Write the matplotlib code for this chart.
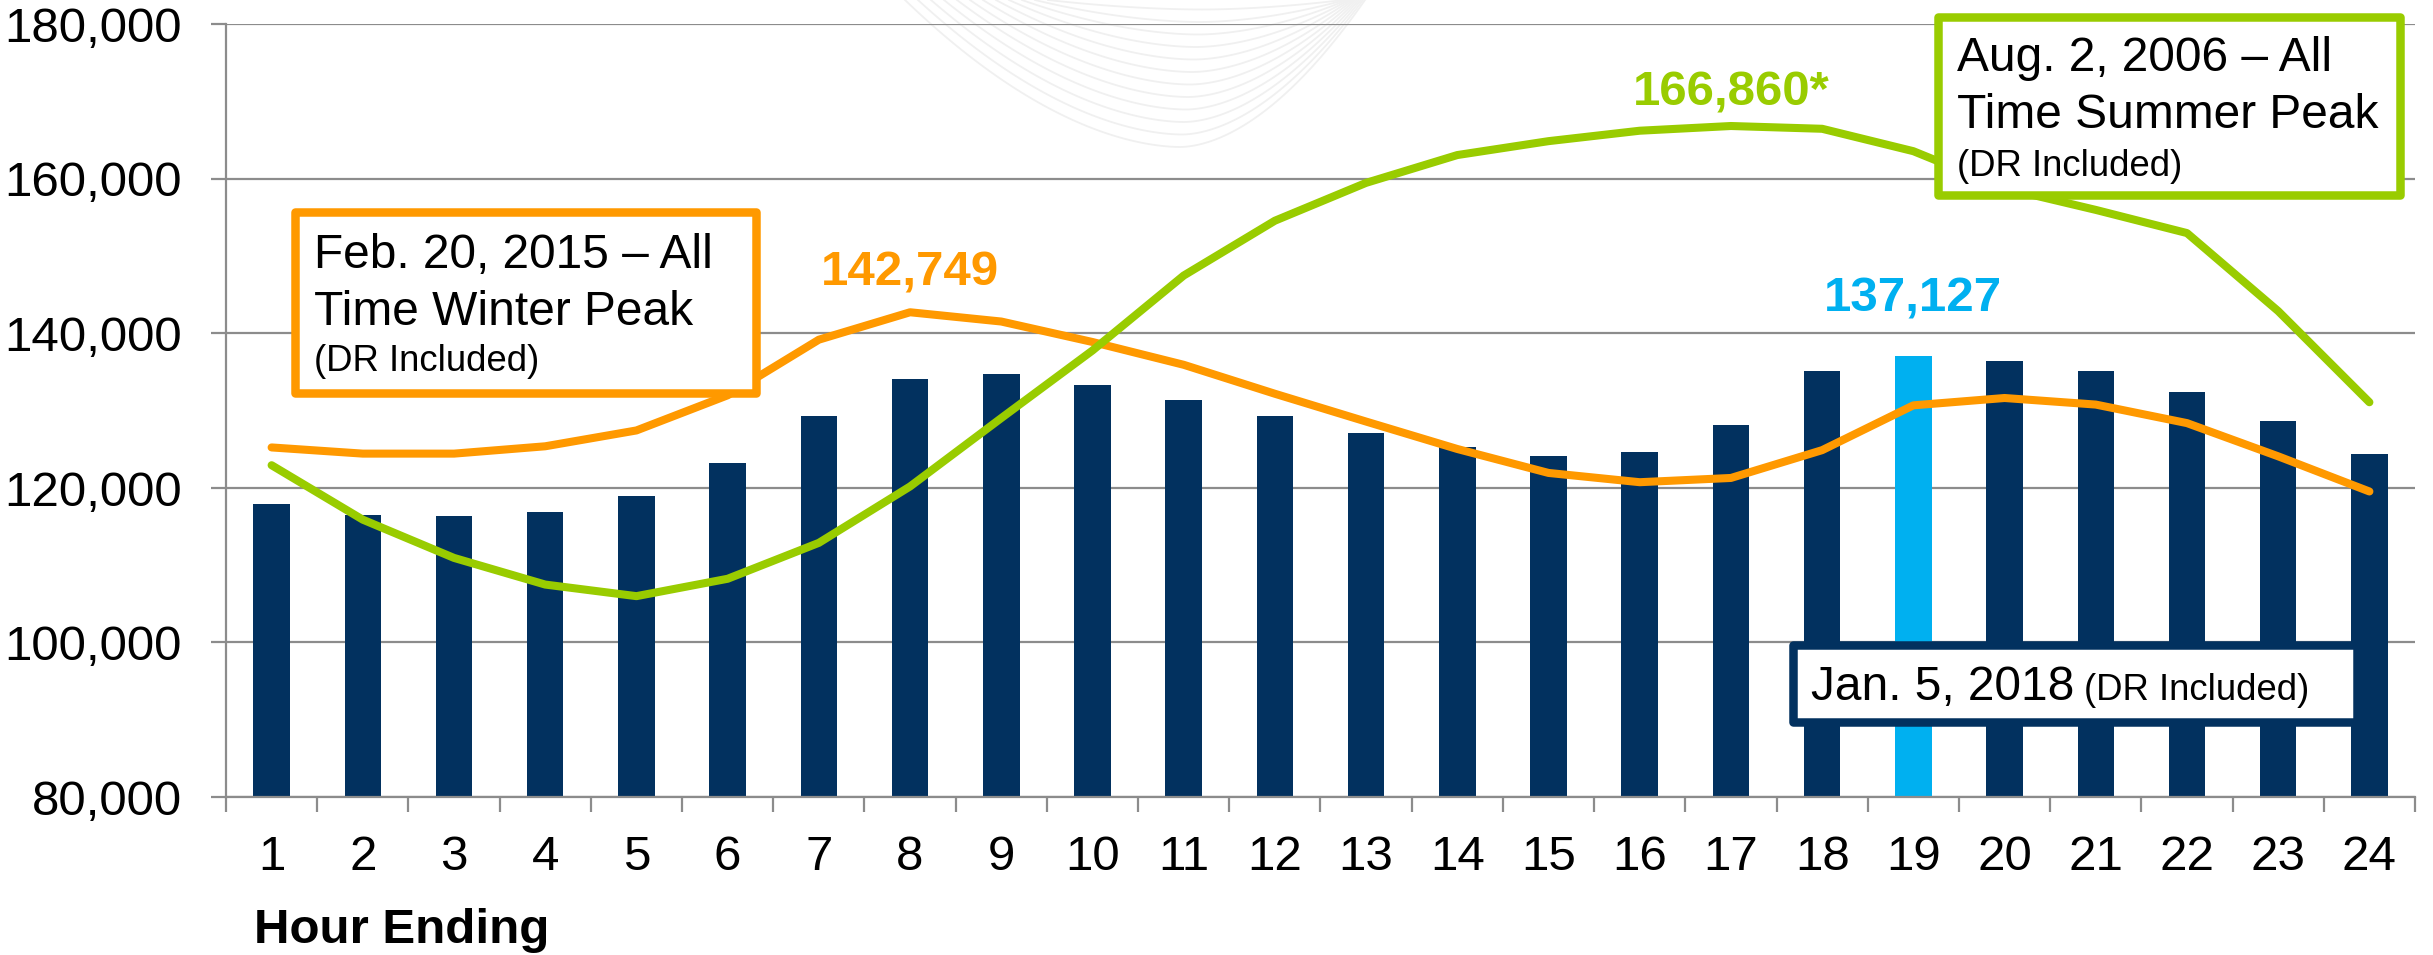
import numpy as np
import matplotlib
matplotlib.use("Agg")
import matplotlib.pyplot as plt
from matplotlib.patches import Rectangle
from matplotlib.ticker import FuncFormatter, FixedLocator

plt.rcParams['font.family'] = ['Liberation Sans', 'DejaVu Sans']

# ---------------- data ----------------
hours = list(range(1, 25))
hour_labels = [str(h) for h in hours]
jan2018 = [117900, 116500, 116400, 116900, 119000, 123300, 129350, 134100,
           134700, 133300, 131400, 129300, 127150, 125350, 124100, 124600,
           128100, 135200, 137127, 136450, 135100, 132450, 128700, 124400]
winter2015 = [125250, 124450, 124450, 125400, 127450, 132000, 139200, 142749,
              141550, 138900, 135950, 132200, 128600, 125050, 121950, 120750,
              121300, 124900, 130700, 131650, 130800, 128400, 124100, 119550]
summer2006 = [122950, 115900, 110950, 107500, 106000, 108250, 112900, 120200,
              129050, 137800, 147500, 154600, 159500, 163100, 164900, 166250,
              166860, 166500, 163600, 158800, 156000, 153000, 142900, 131100]
peak_hour_jan = 19
peak_label_jan = "137,127"
peak_label_winter = "142,749"
peak_label_summer = "166,860*"
yticks = [80000, 100000, 120000, 140000, 160000, 180000]

NAVY = "#02315F"
LIGHTBLUE = "#00B0F0"
ORANGE = "#FF9900"
GREEN = "#99CC00"
GRID = "#8C8C8C"

FS_MAIN = 34.5
FS_TICK = 35.5
FS_SMALL = 26.3
FS_BOLD = 35.5

W, H = 2433, 955
fig = plt.figure(figsize=(W / 100, H / 100), dpi=100)

def fx(px):
    return px / W

def fy(py):
    return 1 - py / H

# faint background watermark arcs (decoration)
bg = fig.add_axes([0, 0, 1, 1], zorder=-1)
bg.set_xlim(0, W)
bg.set_ylim(H, 0)
bg.axis('off')
for k in range(12):
    yb = 147 - 12.5 * k
    xb = 1180 + 2 * k
    xl = 905 + 13 * k
    xr = 1365 - 2 * k
    t1 = np.linspace(xl, xb, 60)
    t2 = np.linspace(xb, xr, 60)
    y1 = yb * (1 - ((xb - t1) / (xb - xl)) ** 1.8)
    y2 = yb * (1 - ((t2 - xb) / (xr - xb)) ** 1.8)
    bg.plot(np.r_[t1, t2], np.r_[y1, y2], color="#F0F0F0", lw=1.3)

# ---------------- main axes ----------------
ax = fig.add_axes([fx(226), fy(797), fx(2415) - fx(226), fy(24.5) - fy(797)])
ax.patch.set_alpha(0)

colors = [LIGHTBLUE if h == peak_hour_jan else NAVY for h in hours]
ax.bar(hours, jan2018, width=0.4, color=colors, zorder=2)
ax.plot(hours, winter2015, color=ORANGE, lw=5.8, solid_capstyle='round',
        solid_joinstyle='round', zorder=3)
ax.plot(hours, summer2006, color=GREEN, lw=5.8, solid_capstyle='round',
        solid_joinstyle='round', zorder=4)

ax.set_xlim(0.5, 24.5)
ax.set_ylim(80000, 180000)
ax.set_yticks(yticks)
ax.yaxis.set_major_formatter(FuncFormatter(lambda v, p: f"{int(v):,}"))
ax.grid(axis='y', color=GRID, lw=1.6, zorder=0)
ax.set_axisbelow(True)

ax.set_xticks(hours)
ax.set_xticklabels(hour_labels)
ax.xaxis.set_minor_locator(FixedLocator(np.arange(0.5, 25, 1)))
ax.tick_params(axis='x', which='major', length=0, pad=27, labelsize=FS_TICK)
ax.tick_params(axis='x', which='minor', length=11, width=1.6, color=GRID, direction='out')
ax.tick_params(axis='y', which='major', length=11, width=1.6, color=GRID, pad=21, labelsize=FS_TICK)

for s in ['top', 'right']:
    ax.spines[s].set_visible(False)
for s in ['left', 'bottom']:
    ax.spines[s].set_color(GRID)
    ax.spines[s].set_linewidth(1.6)

# value labels
i_w = int(np.argmax(winter2015))
i_s = int(np.argmax(summer2006))
i_j = hours.index(peak_hour_jan)
ax.annotate(peak_label_winter, (hours[i_w], winter2015[i_w]), xytext=(0, 28),
            textcoords='offset points', ha='center', va='center',
            fontsize=FS_BOLD, fontweight='bold', color=ORANGE)
ax.annotate(peak_label_summer, (hours[i_s], summer2006[i_s]), xytext=(0, 24),
            textcoords='offset points', ha='center', va='center',
            fontsize=FS_BOLD, fontweight='bold', color=GREEN)
ax.annotate(peak_label_jan, (hours[i_j], jan2018[i_j]), xytext=(0, 41),
            textcoords='offset points', ha='center', va='center',
            fontsize=FS_BOLD, fontweight='bold', color=LIGHTBLUE)

# ---------------- callout boxes ----------------
def box(x0, y0, x1, y1, ec, lw_px):
    r = Rectangle((fx(x0), fy(y1)), fx(x1) - fx(x0), fy(y0) - fy(y1),
                  transform=fig.transFigure, facecolor='white', edgecolor=ec,
                  lw=lw_px * 0.72, joinstyle='round', zorder=5)
    fig.add_artist(r)

def ftext(x, y, s, size, **kw):
    return fig.text(fx(x), fy(y), s, fontsize=size, va='baseline', ha='left',
                    color='black', zorder=6, **kw)

# winter box
box(295, 212, 756, 393, ORANGE, 8.5)
ftext(314, 268, "Feb. 20, 2015 \u2013 All", FS_MAIN)
ftext(314, 325, "Time Winter Peak", FS_MAIN)
ftext(314, 371, "(DR Included)", FS_SMALL)

# summer box
box(1938, 17, 2400, 195, GREEN, 8.5)
ftext(1957, 71, "Aug. 2, 2006 \u2013 All", FS_MAIN)
ftext(1957, 128, "Time Summer Peak", FS_MAIN)
ftext(1957, 176, "(DR Included)", FS_SMALL)

# Jan 2018 box
box(1793, 645, 2357, 722, NAVY, 8.5)
t_jan = ftext(1811, 700, "Jan. 5, 2018", FS_MAIN)
fig.canvas.draw()
bb = t_jan.get_window_extent(renderer=fig.canvas.get_renderer())
ftext(bb.x1 + 10, 700, "(DR Included)", FS_SMALL)

# axis title
fig.text(fx(254), fy(943), "Hour Ending", fontsize=FS_TICK, fontweight='bold',
         va='baseline', ha='left')

fig.savefig("out.png", dpi=100)
